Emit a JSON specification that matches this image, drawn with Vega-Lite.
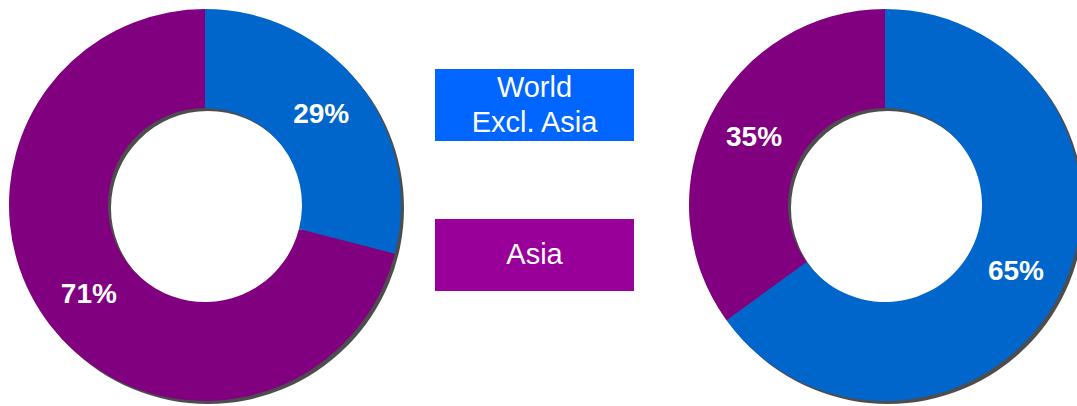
{
  "$schema": "https://vega.github.io/schema/vega-lite/v6.json",
  "padding": 0,
  "background": "white",
  "spacing": 25,
  "bounds": "flush",
  "config": {"view": {"stroke": null}},
  "datasets": {
    "left": [
      {"region": "World Excl. Asia", "share": 0.29},
      {"region": "Asia", "share": 0.71}
    ],
    "right": [
      {"region": "World Excl. Asia", "share": 0.65},
      {"region": "Asia", "share": 0.35}
    ],
    "legend": [
      {"region": "World Excl. Asia", "label": "World\nExcl. Asia"},
      {"region": "Asia", "label": "Asia"}
    ]
  },
  "resolve": {"scale": {"color": "independent", "y": "independent", "theta": "independent"}},
  "hconcat": [
    {
      "width": 410,
      "height": 406,
      "data": {"name": "left"},
      "layer": [
        {
          "transform": [{"aggregate": [{"op": "sum", "field": "share", "as": "total"}]}],
          "mark": {"type": "arc", "radius": 196, "radius2": 97, "color": "#4d4d4d", "xOffset": 3, "yOffset": 5},
          "encoding": {"theta": {"field": "total", "type": "quantitative"}}
        },
        {
          "mark": {"type": "arc", "radius": 196, "radius2": 97, "yOffset": 2},
          "encoding": {
            "theta": {"field": "share", "type": "quantitative", "stack": true},
            "order": {"field": "region", "sort": "descending"},
            "color": {"field": "region", "type": "nominal", "scale": {"domain": ["World Excl. Asia", "Asia"], "range": ["#0066CC", "#800080"]}, "legend": null}
          }
        },
        {
          "mark": {"type": "text", "radius": 147, "yOffset": 2, "fill": "white", "font": "Liberation Sans", "fontWeight": "bold", "fontSize": 28, "align": "center", "baseline": "middle"},
          "encoding": {
            "theta": {"field": "share", "type": "quantitative", "stack": true},
            "order": {"field": "region", "sort": "descending"},
            "text": {"field": "share", "type": "quantitative", "format": ".0%"}
          }
        }
      ]
    },
    {
      "width": 199,
      "height": 406,
      "data": {"name": "legend"},
      "encoding": {
        "y": {"field": "region", "type": "nominal", "axis": null, "sort": ["World Excl. Asia", "Asia"], "scale": {"range": [69, 291], "paddingInner": 0.52, "paddingOuter": 0}}
      },
      "layer": [
        {
          "mark": {"type": "bar"},
          "encoding": {
            "color": {"field": "region", "type": "nominal", "scale": {"domain": ["World Excl. Asia", "Asia"], "range": ["#0066FF", "#990099"]}, "legend": null}
          }
        },
        {
          "transform": [{"filter": "datum.region === 'World Excl. Asia'"}],
          "mark": {"type": "text", "fill": "white", "font": "Liberation Sans", "fontSize": 29, "lineBreak": "\n", "lineHeight": 35, "align": "center", "baseline": "middle", "dy": -17.5},
          "encoding": {"text": {"field": "label", "type": "nominal"}}
        },
        {
          "transform": [{"filter": "datum.region === 'Asia'"}],
          "mark": {"type": "text", "fill": "white", "font": "Liberation Sans", "fontSize": 29, "align": "center", "baseline": "middle"},
          "encoding": {"text": {"field": "label", "type": "nominal"}}
        }
      ]
    },
    {
      "width": 418,
      "height": 406,
      "data": {"name": "right"},
      "layer": [
        {
          "transform": [{"aggregate": [{"op": "sum", "field": "share", "as": "total"}]}],
          "mark": {"type": "arc", "radius": 196, "radius2": 97, "color": "#4d4d4d", "xOffset": 20, "yOffset": 5, "clip": true},
          "encoding": {"theta": {"field": "total", "type": "quantitative"}}
        },
        {
          "mark": {"type": "arc", "radius": 196, "radius2": 97, "xOffset": 17, "yOffset": 2, "clip": true},
          "encoding": {
            "theta": {"field": "share", "type": "quantitative", "stack": true},
            "order": {"field": "region", "sort": "descending"},
            "color": {"field": "region", "type": "nominal", "scale": {"domain": ["World Excl. Asia", "Asia"], "range": ["#0066CC", "#800080"]}, "legend": null}
          }
        },
        {
          "mark": {"type": "text", "radius": 147, "xOffset": 17, "yOffset": 2, "fill": "white", "font": "Liberation Sans", "fontWeight": "bold", "fontSize": 28, "align": "center", "baseline": "middle"},
          "encoding": {
            "theta": {"field": "share", "type": "quantitative", "stack": true},
            "order": {"field": "region", "sort": "descending"},
            "text": {"field": "share", "type": "quantitative", "format": ".0%"}
          }
        }
      ]
    }
  ]
}
